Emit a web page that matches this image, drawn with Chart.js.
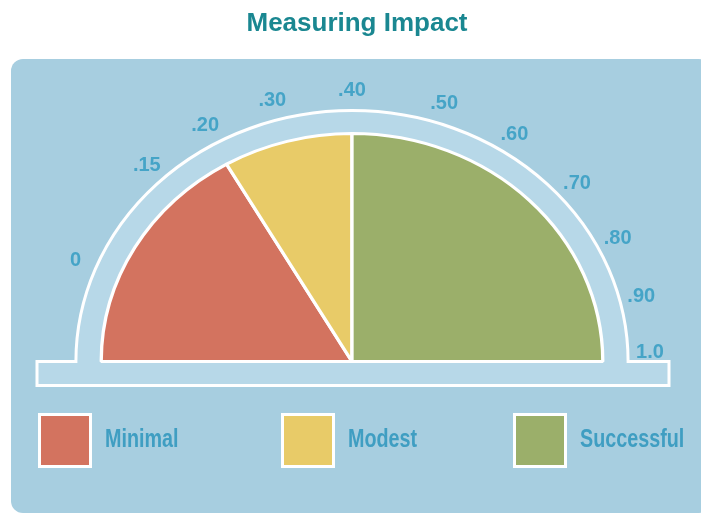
<!DOCTYPE html>
<html>
<head>
<meta charset="utf-8">
<title>Measuring Impact</title>
<script src="https://cdn.jsdelivr.net/npm/chart.js@4.4.1/dist/chart.umd.min.js"></script>
<style>
  html, body { margin: 0; padding: 0; background: #fff; }
  #wrap { width: 701px; height: 515px; }
</style>
</head>
<body>
<div id="wrap"><canvas id="gauge" width="701" height="515"></canvas></div>
<script>
// slices of the half dial, in degrees
const categories = ["Minimal", "Modest", "Successful"]
const sliceDegrees = [60, 30, 90]
const sliceColors = ["#d3735f", "#e8cb68", "#9baf6a"]

// dial labels and where they sit along the arc (degrees from the left end)
const tickLabels = ["0", ".15", ".20", ".30", ".40", ".50", ".60", ".70", ".80", ".90", "1.0"]
const tickDegrees = [22, 46.5, 60.5, 74.5, 90, 108, 123, 139, 153, 166, 178]

const STRETCH = 1.1   // the dial is drawn wider than it is tall
const DIAL_X = 352
const PIE_R = 228
const RING_R = 251
const LABEL_R = 271
const legendX = [38, 281, 513]

const dialPlugin = {
    id: "dial",
    beforeDraw(chart) {
        const ctx = chart.ctx
        ctx.save()
        ctx.fillStyle = "#a7cee0"
        ctx.beginPath()
        ctx.roundRect(11, 59, 700, 454, 12)
        ctx.fill()
        ctx.restore()
    },
    beforeDatasetsDraw(chart) {
        const ctx = chart.ctx
        const arc = chart.getDatasetMeta(0).data[0]
        const cy = arc.y

        // light ring round the pie plus the base bar, one white outline
        ctx.save()
        ctx.beginPath()
        ctx.moveTo(37, cy + 24)
        ctx.lineTo(37, cy)
        ctx.ellipse(DIAL_X, cy, RING_R * STRETCH, RING_R, 0, Math.PI, 2 * Math.PI)
        ctx.lineTo(669, cy)
        ctx.lineTo(669, cy + 24)
        ctx.closePath()
        ctx.fillStyle = "#b7d8e8"
        ctx.fill()
        ctx.lineWidth = 3
        ctx.strokeStyle = "#fff"
        ctx.stroke()
        ctx.restore()

        // stretch the pie the same way
        ctx.save()
        ctx.translate(DIAL_X, cy)
        ctx.scale(STRETCH, 1)
        ctx.translate(-arc.x, -cy)
    },
    afterDatasetsDraw(chart) {
        const ctx = chart.ctx
        ctx.restore()
        const cy = chart.getDatasetMeta(0).data[0].y

        ctx.save()
        ctx.font = "bold 20px 'Liberation Sans', Arial, sans-serif"
        ctx.fillStyle = "#45a4c7"
        ctx.textAlign = "center"
        ctx.textBaseline = "middle"
        tickLabels.forEach((t, i) => {
            const a = tickDegrees[i] * Math.PI / 180
            ctx.fillText(t, DIAL_X - Math.cos(a) * LABEL_R * STRETCH, cy - Math.sin(a) * LABEL_R)
        })

        // legend
        const colors = chart.data.datasets[0].backgroundColor
        ctx.font = "bold 26px 'Liberation Sans', Arial, sans-serif"
        ctx.textAlign = "left"
        chart.data.labels.forEach((label, i) => {
            const x = legendX[i]
            ctx.fillStyle = "#fff"
            ctx.fillRect(x, 413, 54, 55)
            ctx.fillStyle = colors[i]
            ctx.fillRect(x + 3, 416, 48, 49)
            ctx.save()
            ctx.translate(x + 67, 440)
            ctx.scale(0.76, 1)
            ctx.fillStyle = "#3f9ec2"
            ctx.fillText(label, 0, 0)
            ctx.restore()
        })
        ctx.restore()
    }
}

new Chart("gauge", {
    type: "pie",
    data: {
        labels: categories,
        datasets: [{
            data: sliceDegrees,
            backgroundColor: sliceColors,
            borderColor: "#fff",
            borderWidth: 3,
            rotation: -90,
            circumference: 180,
            radius: PIE_R,
            clip: false
        }]
    },
    options: {
        responsive: false,
        animation: false,
        events: [],
        rotation: -90,
        circumference: 180,
        radius: PIE_R,
        layout: { padding: { left: 13, right: 0, top: 0, bottom: 59 } },
        plugins: {
            legend: { display: false },
            tooltip: { enabled: false },
            title: {
                display: true,
                text: "Measuring Impact",
                color: "#1a8791",
                font: { family: "'Liberation Sans', Arial, sans-serif", size: 26, weight: "bold" },
                padding: { top: 8, bottom: 0 }
            }
        }
    },
    plugins: [dialPlugin]
})
</script>
</body>
</html>
